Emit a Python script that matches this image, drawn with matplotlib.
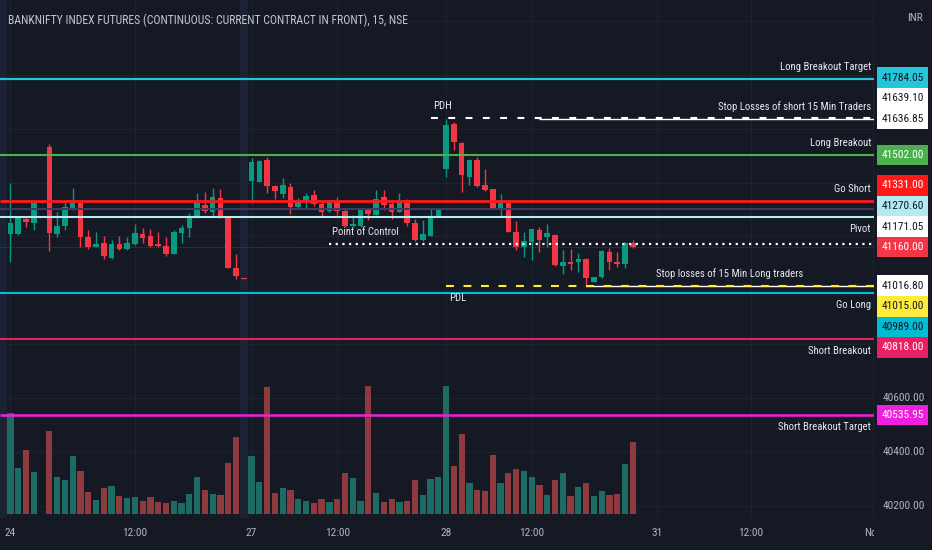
import numpy as np
import matplotlib.pyplot as plt
from matplotlib.patches import Rectangle
from matplotlib.transforms import blended_transform_factory

# ---------------- data (15 min bars, BANKNIFTY futures) ----------------
opens = [41209, 41209, 41264, 41250, 41325, 41533, 41209, 41240, 41304, 41323,
         41199, 41161, 41176, 41121, 41172, 41153, 41172, 41209, 41201, 41172,
         41164, 41134, 41213, 41232, 41267, 41316, 41292, 41341, 41271, 41084,
         41045, 41406, 41403, 41484, 41388, 41357, 41384, 41308, 41329, 41354,
         41320, 41295, 41331, 41295, 41238, 41238, 41302, 41281, 41345, 41320,
         41292, 41335, 41248, 41186, 41201, 41273, 41449, 41617, 41546, 41422,
         41484, 41391, 41375, 41304, 41325, 41217, 41161, 41180, 41224, 41196,
         41205, 41091, 41104, 41104, 41116, 41031, 41048, 41143, 41106, 41097,
         41176]
highs = [41398, 41272, 41272, 41328, 41327, 41543, 41292, 41329, 41380, 41329,
         41224, 41216, 41201, 41186, 41201, 41199, 41246, 41230, 41227, 41216,
         41199, 41224, 41242, 41286, 41360, 41366, 41379, 41375, 41273, 41134,
         41046, 41490, 41484, 41496, 41390, 41418, 41399, 41341, 41362, 41372,
         41332, 41335, 41347, 41304, 41279, 41302, 41306, 41372, 41372, 41335,
         41360, 41338, 41263, 41261, 41300, 41306, 41636.85, 41625, 41552, 41486,
         41494, 41449, 41377, 41356, 41327, 41258, 41217, 41228, 41236, 41246,
         41207, 41149, 41152, 41139, 41118, 41050, 41149, 41156, 41143, 41180,
         41186]
lows = [41105, 41205, 41235, 41224, 41323, 41147, 41196, 41224, 41298, 41161,
        41152, 41159, 41116, 41116, 41149, 41149, 41168, 41174, 41161, 41161,
        41127, 41134, 41176, 41196, 41267, 41286, 41276, 41267, 41082, 41040,
        41042, 41323, 41401, 41360, 41338, 41341, 41283, 41304, 41304, 41313,
        41273, 41292, 41279, 41234, 41236, 41236, 41261, 41281, 41298, 41263,
        41292, 41238, 41184, 41184, 41201, 41271, 41422, 41521, 41366, 41391,
        41385, 41370, 41302, 41273, 41215, 41149, 41124, 41112, 41143, 41161,
        41091, 41060, 41075, 41069, 41016.8, 41029, 41046, 41075, 41087, 41081,
        41155]
closes = [41251, 41268, 41253, 41324, 41325, 41211, 41240, 41310, 41323, 41199,
          41159, 41172, 41127, 41172, 41153, 41174, 41213, 41193, 41164, 41164,
          41134, 41216, 41232, 41276, 41325, 41295, 41347, 41271, 41084, 41053,
          41043, 41475, 41481, 41388, 41368, 41391, 41310, 41326, 41350, 41319,
          41292, 41325, 41294, 41238, 41246, 41300, 41283, 41339, 41316, 41292,
          41331, 41248, 41186, 41209, 41273, 41304, 41614, 41552, 41428, 41484,
          41387, 41372, 41304, 41325, 41217, 41161, 41184, 41226, 41186, 41211,
          41093, 41106, 41097, 41116, 41044, 41048, 41147, 41106, 41096, 41174,
          41160]
volumes = [101, 46, 64, 42, 0.5, 83, 37, 34, 58, 43,
           22, 14, 26, 28, 18, 16, 17, 13, 17, 12,
           11, 13, 11, 20, 37, 24, 20, 19, 51, 77,
           0.5, 58, 32, 127, 21, 26, 24, 15, 13, 11,
           15, 12, 15, 41, 36, 13, 128, 21, 12, 15,
           12, 13, 34, 19, 35, 37, 128, 48, 80, 31,
           24, 23, 59, 31, 41, 45, 43, 37, 29, 19,
           34, 41, 18, 27, 31, 18, 23, 19, 20, 50,
           72]
off_session_bars = [-1, 30]

time_tick_pos = [0, 16, 31, 42, 56, 67, 83.1, 95.2, 110.9]
time_tick_labels = ['24', '12:00', '27', '12:00', '28', '12:00', '31', '12:00', 'Nov']

level_names = ['Long Breakout Target', 'PDH', 'Stop Losses of short 15 Min Traders',
               'Long Breakout', 'Go Short', 'Band', 'Pivot', 'Point of Control',
               'Stop losses of 15 Min Long traders', 'PDL', 'Go Long',
               'Short Breakout', 'Short Breakout Target']
level_prices = [41784.05, 41639.10, 41636.85, 41502.00, 41331.00, 41302.00, 41270.60,
                41171.05, 41016.80, 41015.00, 40989.00, 40818.00, 40535.95]
level_start = [None, 54, 68, None, None, None, None, 41, 74, 56, None, None, None]
last_price = 41160.00

title = 'BANKNIFTY INDEX FUTURES (CONTINUOUS: CURRENT CONTRACT IN FRONT), 15, NSE'

# ---------------- style ----------------
BG = '#151924'
GRID = '#1e2230'
UP, DOWN = '#089981', '#f23645'
VUP, VDOWN = '#1d6b62', '#8e3a3f'
TXT = '#e8eaf0'
AXT = '#b2b5be'
DARK = '#131722'
plt.rcParams['font.family'] = ['Roboto Condensed', 'Open Sans Condensed', 'DejaVu Sans']
FS = 7.7   # line captions
FA = 8.2   # scale labels

# color, linestyle, linewidth, label bg, label fg, text side (+1 above / -1 below), text x mode
STYLE = {
    'Long Breakout Target': ('#26c6da', '-', 1.6, '#26c6da', DARK, 1, 'right'),
    'PDH': ('#ffffff', (0, (3.3, 5)), 1.5, '#ffffff', DARK, 1, 'start'),
    'Stop Losses of short 15 Min Traders': ('#ffffff', '-', 1.0, '#ffffff', DARK, 1, 'right'),
    'Long Breakout': ('#4caf50', '-', 1.5, '#4caf50', '#ffffff', 1, 'right'),
    'Go Short': ('#ff1a1a', '-', 2.0, '#ff1a1a', '#ffffff', 1, 'right'),
    'Band': ('#3f3a66', '-', 1.4, None, None, 0, None),
    'Pivot': ('#b2ebf2', '-', 1.5, '#b2ebf2', DARK, -1, 'right'),
    'Point of Control': ('#ffffff', (0, (1, 2)), 1.6, '#ffffff', DARK, 1, 'start'),
    'Stop losses of 15 Min Long traders': ('#ffffff', '-', 1.0, '#ffffff', DARK, 1, 'center'),
    'PDL': ('#ffeb3b', (0, (3.8, 4.6)), 1.5, '#ffeb3b', DARK, -1, 'start'),
    'Go Long': ('#00bcd4', '-', 1.5, '#00bcd4', DARK, -1, 'right'),
    'Short Breakout': ('#e91e63', '-', 1.5, '#e91e63', '#ffffff', -1, 'right'),
    'Short Breakout Target': ('#f01fe0', '-', 1.8, '#f01fe0', '#ffffff', -1, 'right'),
}

W, H = 932, 550
PLOT_W, TIME_H = 874, 32
Y_TOP, Y_BOT = 42078.0, 40153.6
X_LEFT, X_RIGHT = -1.337, 111.0

o, h, l, c = map(np.array, (opens, highs, lows, closes))
vol = np.array(volumes)
x = np.arange(len(o))
up = c >= o

fig = plt.figure(figsize=(W / 100, H / 100), dpi=100, facecolor=BG)
rect = [0, TIME_H / H, PLOT_W / W, 1 - TIME_H / H]

# volume pane (bottom layer) carries background, grid and session shading
ax_v = fig.add_axes(rect)
ax_v.set_facecolor(BG)
ax = fig.add_axes(rect, sharex=ax_v)
ax.patch.set_visible(False)
for a in (ax, ax_v):
    for s in a.spines.values():
        s.set_visible(False)
    a.tick_params(left=False, bottom=False, labelleft=False, labelbottom=False)

ax_v.set_xlim(X_LEFT, X_RIGHT)
ax.set_ylim(Y_BOT, Y_TOP)
plot_h = H - TIME_H
ax_v.set_ylim(-4, plot_h - 4)

for i in off_session_bars:
    ax_v.axvspan(i - 0.5, i + 0.5, color='#1b2234', lw=0, zorder=0)
for t in time_tick_pos:
    ax_v.axvline(t, color=GRID, lw=0.8, zorder=0.5)
price_ticks = np.arange(40200, 42001, 200)
grid_tr = blended_transform_factory(ax_v.transAxes, ax.transData)
for p in price_ticks:
    ax_v.plot([0, 1], [p, p], transform=grid_tr, color=GRID, lw=0.8, zorder=0.5)

ax_v.bar(x, vol, width=0.8, color=np.where(up, VUP, VDOWN), zorder=1)

# candles
col = np.where(up, UP, DOWN)
ax.vlines(x, l, h, colors=col, lw=1.0, zorder=3)
body = np.maximum(np.abs(c - o), 3.0)
ax.bar(x, body, bottom=np.minimum(o, c), width=0.72, color=col, zorder=3)

# last price line
ax.axhline(last_price, color=DOWN, alpha=0.45, lw=0.7, ls=(0, (1, 1)), zorder=2)

# levels
px = 0.72  # points per pixel
for name, price, start in zip(level_names, level_prices, level_start):
    colr, ls, lw, _, _, side, mode = STYLE[name]
    x0 = X_LEFT if start is None else start
    ax.plot([x0, X_RIGHT], [price, price], color=colr, ls=ls, lw=lw,
            solid_capstyle='butt', dash_capstyle='butt', zorder=4)
    if mode is None:
        continue
    dy = side * 12 * px
    if mode == 'right':
        ax.annotate(name, xy=(1, price), xycoords=('axes fraction', 'data'),
                    xytext=(-3 * px, dy), textcoords='offset points',
                    ha='right', va='center', color=TXT, fontsize=FS, zorder=5)
    elif mode == 'start':
        ax.annotate(name, xy=(start, price), xytext=(3 * px, dy),
                    textcoords='offset points', ha='left', va='center',
                    color=TXT, fontsize=FS, zorder=5)
    else:
        ax.annotate(name, xy=((start + X_RIGHT) / 2, price), xytext=(0, dy),
                    textcoords='offset points', ha='center', va='center',
                    color=TXT, fontsize=FS, zorder=5)

# ---------------- price scale ----------------
ax_p = fig.add_axes([PLOT_W / W, TIME_H / H, 1 - PLOT_W / W, 1 - TIME_H / H], sharey=ax)
ax_p.set_facecolor(BG)
for s in ax_p.spines.values():
    s.set_visible(False)
ax_p.tick_params(left=False, bottom=False, labelleft=False, labelbottom=False)
ax_p.set_xlim(0, 1)
ptr = blended_transform_factory(ax_p.transAxes, ax_p.transData)

labels = [(p, STYLE[n][3], STYLE[n][4]) for n, p in zip(level_names, level_prices)
          if STYLE[n][3] is not None]
labels.append((last_price, DOWN, '#ffffff'))

# stack labels away from the last price label so boxes do not overlap
pt_per_px = (Y_TOP - Y_BOT) / plot_h
gap = 20.6 * pt_per_px
pos = [None] * len(labels)
order_up = sorted([i for i, lb in enumerate(labels) if lb[0] > last_price], key=lambda i: labels[i][0])
order_dn = sorted([i for i, lb in enumerate(labels) if lb[0] < last_price], key=lambda i: -labels[i][0])
prev = last_price
for i in order_up:
    prev = max(labels[i][0], prev + gap)
    pos[i] = prev
prev = last_price
for i in order_dn:
    prev = min(labels[i][0], prev - gap)
    pos[i] = prev
pos[-1] = last_price

# regular scale ticks, hidden where a level label sits on them
for p in price_ticks[:-1]:
    if any(abs(p - y) < gap / 2 + 4.5 * pt_per_px for y in pos):
        continue
    ax_p.text(0.52, p, f'{p:.2f}', transform=ptr, ha='center', va='center',
              color=AXT, fontsize=FA)

for (p, bg, fg), y in zip(labels, pos):
    ax_p.add_patch(Rectangle((0.052, y - gap / 2), 0.88, gap, transform=ptr,
                             facecolor=bg, edgecolor='none', zorder=3))
    ax_p.text(0.49, y, f'{p:.2f}', transform=ptr, ha='center', va='center',
              color=fg, fontsize=FA, zorder=4)

# ---------------- time scale ----------------
ax_t = fig.add_axes([0, 0, PLOT_W / W, TIME_H / H], sharex=ax_v)
ax_t.set_facecolor(BG)
for s in ax_t.spines.values():
    s.set_visible(False)
ax_t.tick_params(left=False, bottom=False, labelleft=False, labelbottom=False)
ax_t.set_ylim(0, 1)
for t, lab in zip(time_tick_pos, time_tick_labels):
    ax_t.text(t, 0.53, lab, ha='center', va='center', color=AXT, fontsize=FA, clip_on=True)

fig.text(8 / W, 1 - 20 / H, title, color='#c3c6ce', fontsize=8.5, ha='left', va='center')
fig.text(915 / W, 1 - 18 / H, 'INR', color=AXT, fontsize=FA, ha='center', va='center')

fig.savefig('out.png', dpi=100, facecolor=BG)
